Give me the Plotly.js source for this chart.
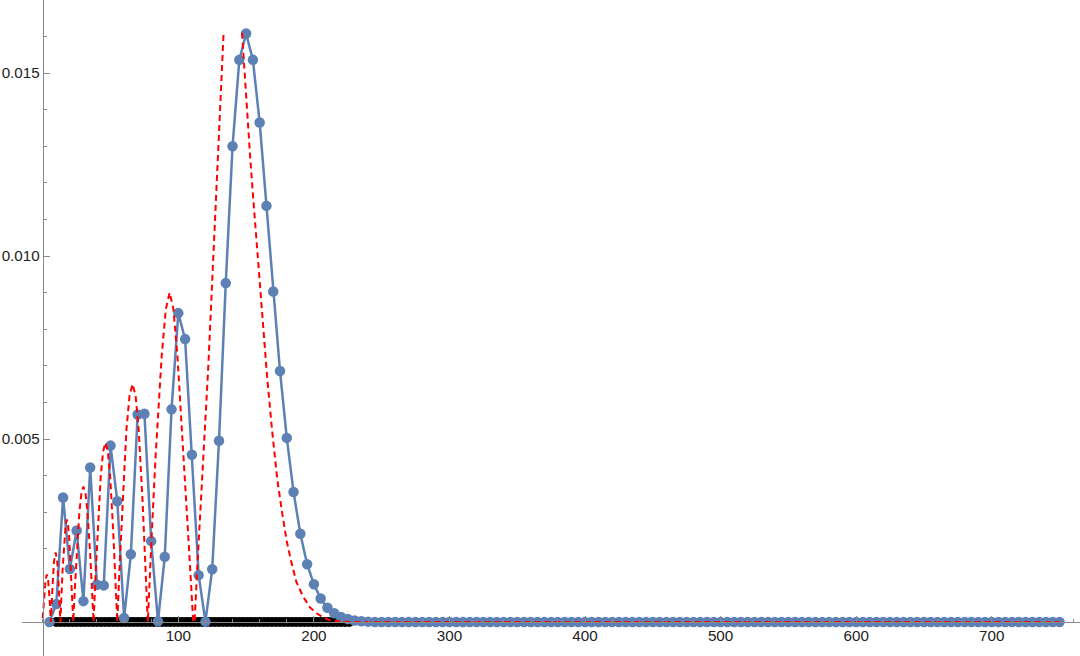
<!DOCTYPE html>
<html>
<head>
<meta charset="utf-8">
<script src="https://cdn.plot.ly/plotly-3.0.1.min.js"></script>
<style>html,body{margin:0;padding:0;background:#fff;}#chart{width:1080px;height:656px;}</style>
</head>
<body>
<div id="chart"></div>
<script>
// ---- data ----
const blueX = [5,10,15,20,25,30,35,40,45,50,55,60,65,70,75,80,85,90,95,100,
  105,110,115,120,125,130,135,140,145,150,155,160,165,170,175,180,185,190,195,200,
  205,210,215,220,225,230,235,240,245,250,255,260,265,270,275,280,285,290,295,300,
  305,310,315,320,325,330,335,340,345,350,355,360,365,370,375,380,385,390,395,400,
  405,410,415,420,425,430,435,440,445,450,455,460,465,470,475,480,485,490,495,500,
  505,510,515,520,525,530,535,540,545,550,555,560,565,570,575,580,585,590,595,600,
  605,610,615,620,625,630,635,640,645,650,655,660,665,670,675,680,685,690,695,700,
  705,710,715,720,725,730,735,740,745,750];
const blueY = [0,0.00049,0.0034,0.00145,0.0025,0.00057,0.00422,0.00102,0.001,0.00482,
  0.0033,0.00011,0.00185,0.00567,0.00569,0.00221,0.00002,0.00178,0.00581,0.00844,
  0.00773,0.00457,0.00128,0.00001,0.00144,0.00495,0.00926,0.013,0.01536,0.01608,
  0.01536,0.01365,0.01137,0.00903,0.00686,0.00503,0.00355,0.00241,0.00158,0.00103,
  0.00064,0.00039,0.00024,0.00014,0.00008,0.00004,0.00002,0.00001,0,0,
  0,0,0,0,0,0,0,0,0,0, 0,0,0,0,0,0,0,0,0,0,
  0,0,0,0,0,0,0,0,0,0, 0,0,0,0,0,0,0,0,0,0,
  0,0,0,0,0,0,0,0,0,0, 0,0,0,0,0,0,0,0,0,0,
  0,0,0,0,0,0,0,0,0,0, 0,0,0,0,0,0,0,0,0,0,
  0,0,0,0,0,0,0,0,0,0, 0,0,0,0,0,0,0,0,0,0];

const redX = [0,1,2,3,4,5,6,
  7.2,8.3,9.5,10.7,11.8,13,
  14.6,16,16.9,17.75,18.6,19.5,20.9,22.5,
  23.7,25,27,28.5,30,31.5,33,35,36.3,37.5,
  38.9,40.5,42.75,44.5,46.25,48,49.75,52,53.6,55,
  56.8,58.8,61.75,64,66.25,68.5,70.75,73.7,75.7,77.5,
  80.2,83.2,87.8,90.8,93.6,96.4,99.3,104,107.5,111,
  112,114,116,118,120,122,124,126,128,130,132,133.4,
  140,
  147,149,151,153,155,158,162,165.5,169,173,176.5,180,183,187,192,197,202,207,212,220,230,750];
const redY = [0.0001,0.00065,0.00113,0.0013,0.00113,0.00065,0,
  0.00095,0.00165,0.0019,0.00165,0.00095,0,
  0.0014,0.00232,0.00266,0.0028,0.00266,0.00232,0.0014,0,
  0.000925,0.00185,0.003,0.003515,0.0037,0.003515,0.003,0.00185,0.000925,0,
  0.001225,0.00245,0.00397,0.004655,0.0049,0.004655,0.00397,0.00245,0.001225,0,
  0.001625,0.00325,0.005265,0.006175,0.0065,0.006175,0.005265,0.00325,0.001625,0,
  0.00225,0.0045,0.0073,0.00855,0.009,0.00855,0.0073,0.0045,0.00225,0,
  0,0.0015,0.0028,0.0041,0.0054,0.0069,0.0085,0.0101,0.0118,0.0136,0.0153,0.0161,
  null,
  0.0161,0.0149,0.0138,0.0127,0.0117,0.0102,0.0084,0.0067,0.0053,0.0039,0.003,0.0022,0.0017,0.0011,0.0007,0.0004,0.00024,0.00012,0.00005,0.00001,0,0];

const blackX = [10,13,16,19,22,25,28,31,34,37,40,43,46,49,52,55,58,61,64,67,
  70,73,76,79,82,85,88,91,94,97,100,103,106,109,112,115,118,121,124,127,
  130,133,136,139,142,145,148,151,154,157,160,163,166,169,172,175,178,181,184,187,
  190,193,196,199,202,205,208,211,214,217,220,223,226];
const blackY = [0,0,0,0,0,0,0,0,0,0,0,0,0,0,0,0,0,0,0,0,
  0,0,0,0,0,0,0,0,0,0,0,0,0,0,0,0,0,0,0,0,
  0,0,0,0,0,0,0,0,0,0,0,0,0,0,0,0,0,0,0,0,
  0,0,0,0,0,0,0,0,0,0,0,0,0];

const xTickVals = [100,200,300,400,500,600,700];
const xTickText = ['100','200','300','400','500','600','700'];
const yTickVals = [0.005,0.01,0.015];
const yTickText = ['0.005','0.010','0.015'];

// ---- layout ----
const xRange = [-15.3, 765.1];
const yRange = [-0.000929, 0.016995];
const axisColor = '#8a8a8a';
const tickFont = {family: 'Liberation Sans, Arial, sans-serif', size: 15.2, color: '#222'};

const traces = [
  {x: blackX, y: blackY, type: 'scatter', mode: 'markers',
   marker: {color: '#000000', size: 10, line: {width: 0}}, hoverinfo: 'skip'},
  {x: blueX, y: blueY, type: 'scatter', mode: 'lines+markers',
   line: {color: '#5E81B5', width: 2.5},
   marker: {color: '#5E81B5', size: 10.5, line: {width: 0}}},
  {x: redX, y: redY, type: 'scatter', mode: 'lines', connectgaps: false,
   line: {color: '#FF0000', width: 2, dash: '6px,4px'}}
];

const layout = {
  width: 1080, height: 656,
  margin: {l: 21.7, r: 0, t: 0, b: 0, pad: 0},
  paper_bgcolor: '#fff', plot_bgcolor: '#fff',
  showlegend: false,
  xaxis: {
    range: xRange, anchor: 'free',
    position: (0 - yRange[0]) / (yRange[1] - yRange[0]),
    showline: true, linecolor: axisColor, linewidth: 1,
    showgrid: false, zeroline: false,
    tickmode: 'array', tickvals: xTickVals, ticktext: xTickText,
    ticks: 'inside', ticklen: 6, tickwidth: 1, tickcolor: axisColor,
    tickfont: tickFont,
    minor: {tickmode: 'linear', tick0: 0, dtick: 20, ticks: 'inside', ticklen: 3, tickwidth: 1, tickcolor: axisColor, showgrid: false}
  },
  yaxis: {
    range: yRange, anchor: 'free',
    position: (0 - xRange[0]) / (xRange[1] - xRange[0]),
    showline: true, linecolor: axisColor, linewidth: 1,
    showgrid: false, zeroline: false,
    tickmode: 'array', tickvals: yTickVals, ticktext: yTickText,
    ticks: 'inside', ticklen: 6, tickwidth: 1, tickcolor: axisColor,
    tickfont: tickFont,
    minor: {tickmode: 'linear', tick0: 0, dtick: 0.001, ticks: 'inside', ticklen: 3.5, tickwidth: 1, tickcolor: axisColor, showgrid: false}
  }
};

Plotly.newPlot('chart', traces, layout, {staticPlot: true, displayModeBar: false});
</script>
</body>
</html>
